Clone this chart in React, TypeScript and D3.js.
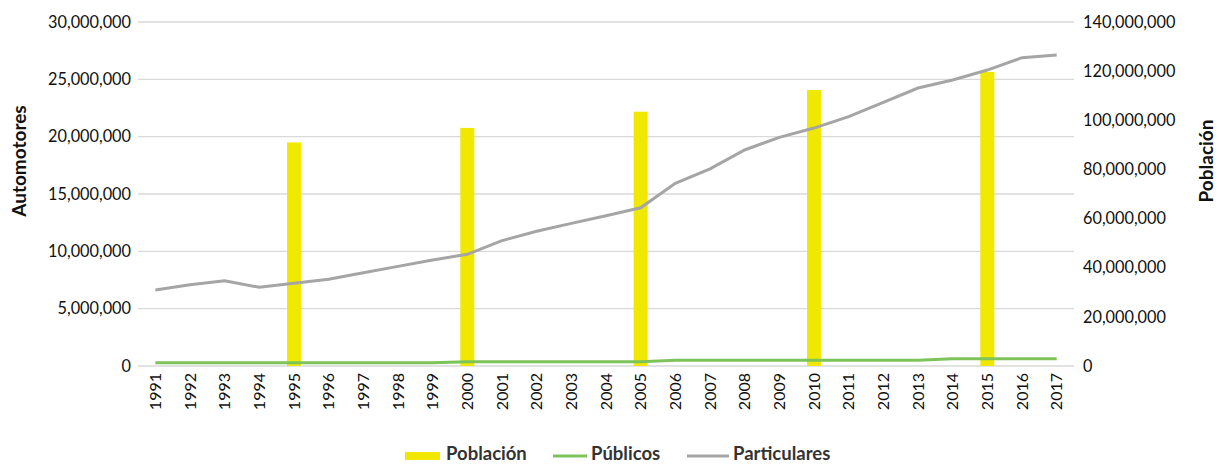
import React, { useRef, useEffect } from 'react';
import * as d3 from 'd3';

const years = [
  '1991', '1992', '1993', '1994', '1995', '1996', '1997', '1998', '1999', '2000',
  '2001', '2002', '2003', '2004', '2005', '2006', '2007', '2008', '2009', '2010',
  '2011', '2012', '2013', '2014', '2015', '2016', '2017',
];

const particulares = [
  6630000, 7090000, 7440000, 6860000, 7210000, 7560000, 8140000, 8690000, 9240000, 9740000,
  10930000, 11750000, 12440000, 13100000, 13800000, 15930000, 17200000, 18840000, 19940000, 20750000,
  21740000, 23000000, 24240000, 24940000, 25810000, 26890000, 27120000,
];

const publicos = [
  290000, 290000, 290000, 290000, 290000, 290000, 290000, 290000, 290000, 370000,
  370000, 370000, 370000, 370000, 370000, 510000, 510000, 510000, 510000, 510000,
  510000, 510000, 510000, 630000, 630000, 630000, 630000,
];

const poblacionYears = ['1995', '2000', '2005', '2010', '2015'];
const poblacion = [91000000, 96900000, 103500000, 112300000, 119700000];

const leftTicks = [0, 5000000, 10000000, 15000000, 20000000, 25000000, 30000000];
const rightTicks = [0, 20000000, 40000000, 60000000, 80000000, 100000000, 120000000, 140000000];

const W = 1219;
const H = 465;
const FONT = 'Lato, "Open Sans", sans-serif';

const App = () => {
  const svgRef = useRef(null);

  useEffect(() => {
    const svg = d3.select(svgRef.current);
    svg.selectAll('*').remove();

    const left = 138, right = 1074, top = 22, bottom = 366;

    const x = d3.scaleBand().domain(years).range([left, right]);
    const yL = d3.scaleLinear().domain([0, 30000000]).range([bottom, top]);
    const yR = d3.scaleLinear().domain([0, 140000000]).range([bottom, top]);
    const fmt = d3.format(',');
    const cx = (d) => x(d) + x.bandwidth() / 2;

    // gridlines
    svg.append('g')
      .selectAll('line')
      .data(leftTicks)
      .enter()
      .append('line')
      .attr('x1', left)
      .attr('x2', right)
      .attr('y1', d => yL(d))
      .attr('y2', d => yL(d))
      .attr('stroke', '#d9d9d9')
      .attr('stroke-width', 1.3);

    // left axis labels
    svg.append('g')
      .selectAll('text')
      .data(leftTicks)
      .enter()
      .append('text')
      .attr('x', 131)
      .attr('y', d => yL(d))
      .attr('dy', '0.35em')
      .attr('text-anchor', 'end')
      .attr('font-family', FONT)
      .attr('font-size', 16.3)
      .attr('fill', '#111')
      .text(d => fmt(d));

    // right axis labels
    svg.append('g')
      .selectAll('text')
      .data(rightTicks)
      .enter()
      .append('text')
      .attr('x', 1083)
      .attr('y', d => yR(d))
      .attr('dy', '0.35em')
      .attr('text-anchor', 'start')
      .attr('font-family', FONT)
      .attr('font-size', 16.3)
      .attr('fill', '#111')
      .text(d => fmt(d));

    // x labels
    svg.append('g')
      .selectAll('text')
      .data(years)
      .enter()
      .append('text')
      .attr('transform', d => `translate(${cx(d)},373) rotate(-90)`)
      .attr('dy', '0.35em')
      .attr('text-anchor', 'end')
      .attr('font-family', FONT)
      .attr('font-size', 16)
      .attr('fill', '#111')
      .text(d => d);

    // axis titles
    svg.append('text')
      .attr('transform', 'translate(19,161) rotate(-90)')
      .attr('dy', '0.35em')
      .attr('text-anchor', 'middle')
      .attr('font-family', FONT)
      .attr('font-size', 19)
      .attr('font-weight', 'bold')
      .attr('fill', '#111')
      .text('Automotores');

    svg.append('text')
      .attr('transform', 'translate(1206,161) rotate(-90)')
      .attr('dy', '0.35em')
      .attr('text-anchor', 'middle')
      .attr('font-family', FONT)
      .attr('font-size', 19)
      .attr('font-weight', 'bold')
      .attr('fill', '#111')
      .text('Población');

    // bars
    svg.append('g')
      .selectAll('rect')
      .data(poblacion)
      .enter()
      .append('rect')
      .attr('x', (d, i) => cx(poblacionYears[i]) - 7)
      .attr('width', 14)
      .attr('y', d => yR(d))
      .attr('height', d => bottom - yR(d))
      .attr('fill', '#f0e800');

    // lines
    const line = d3.line()
      .x((d, i) => cx(years[i]))
      .y(d => yL(d));

    svg.append('path')
      .datum(publicos)
      .attr('d', line)
      .attr('fill', 'none')
      .attr('stroke', '#7cc45a')
      .attr('stroke-width', 3);

    svg.append('path')
      .datum(particulares)
      .attr('d', line)
      .attr('fill', 'none')
      .attr('stroke', '#a5a5a5')
      .attr('stroke-width', 3);

    // legend
    const lg = svg.append('g').attr('font-family', FONT).attr('font-size', 18.5).attr('font-weight', 'bold').attr('fill', '#333');
    lg.append('rect').attr('x', 405).attr('y', 452).attr('width', 35).attr('height', 8).attr('fill', '#f0e800');
    lg.append('text').attr('x', 446).attr('y', 454).attr('dy', '0.35em').text('Población');
    lg.append('line').attr('x1', 553).attr('x2', 587).attr('y1', 456).attr('y2', 456).attr('stroke', '#7cc45a').attr('stroke-width', 3);
    lg.append('text').attr('x', 591).attr('y', 454).attr('dy', '0.35em').text('Públicos');
    lg.append('line').attr('x1', 687).attr('x2', 729).attr('y1', 456).attr('y2', 456).attr('stroke', '#a5a5a5').attr('stroke-width', 3);
    lg.append('text').attr('x', 733).attr('y', 454).attr('dy', '0.35em').text('Particulares');
  }, []);

  return (
    <svg ref={svgRef} width={W} height={H} style={{ position: 'absolute', left: 0, top: 0, background: '#fff' }}></svg>
  );
};

export default App;
